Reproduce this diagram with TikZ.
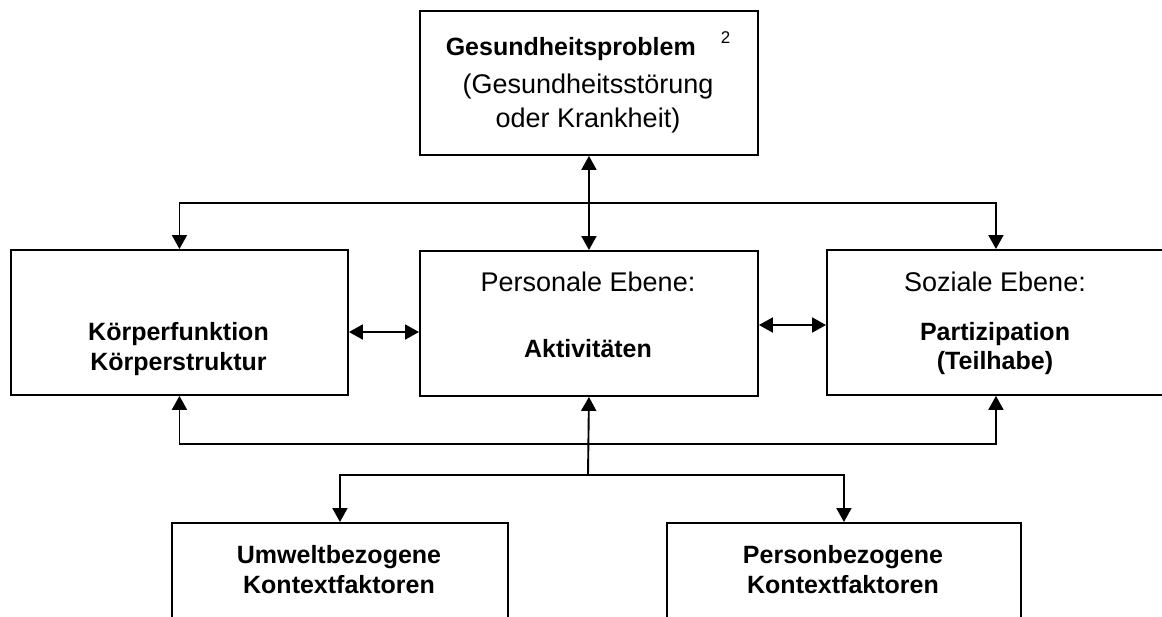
\documentclass[tikz,border=0pt]{standalone}
\usepackage{fontspec}
\setmainfont{Liberation Sans}
\usetikzlibrary{arrows.meta}
\begin{document}
\begin{tikzpicture}[x=1pt,y=-1pt,
  box/.style={draw, line width=1.9pt, inner sep=0pt, anchor=north west},
  reg/.style={font=\fontsize{27}{32}\selectfont, anchor=base, inner sep=0pt},
  bld/.style={font=\fontsize{25}{30}\selectfont\bfseries, anchor=base, inner sep=0pt},
  conn/.style={line width=1.9pt},
  arr/.style={conn, -{Triangle[length=14pt,width=15pt]}},
  darr/.style={conn, {Triangle[length=14pt,width=15pt]}-{Triangle[length=14pt,width=15pt]}}]
\useasboundingbox (0,0) rectangle (1162,616);
\clip (0,0) rectangle (1162,616);
% boxes
\node[box, minimum width=338pt, minimum height=144pt] (T) at (419,10) {};
\node[box, minimum width=337pt, minimum height=145pt] (L) at (10,249) {};
\node[box, minimum width=338pt, minimum height=145pt] (M) at (419,250) {};
\node[box, minimum width=338pt, minimum height=145pt] (R) at (826,249) {};
\node[box, minimum width=336pt, minimum height=140pt] (BL) at (171,522) {};
\node[box, minimum width=354pt, minimum height=140pt] (BR) at (666,522) {};
% texts
\node[bld] (t1) at (588,55) {Gesundheitsproblem\hspace{25pt}\raisebox{12pt}{\fontsize{17}{17}\selectfont\mdseries 2}};
\node[reg] (t2) at (588,93) {(Gesundheitsstörung};
\node[reg] (t3) at (588,127) {oder Krankheit)};
\node[bld] (l1) at (178.5,340) {Körperfunktion};
\node[bld] (l2) at (178.5,370) {Körperstruktur};
\node[reg] (m1) at (588,291) {Personale Ebene:};
\node[bld] (m2) at (588,357) {Aktivitäten};
\node[reg] (r1) at (995,291) {Soziale Ebene:};
\node[bld] (r2) at (995,340) {Partizipation};
\node[bld] (r3) at (995,369) {(Teilhabe)};
\node[bld] (bl1) at (339,563) {Umweltbezogene};
\node[bld] (bl2) at (339,593) {Kontextfaktoren};
\node[bld] (br1) at (843,563) {Personbezogene};
\node[bld] (br2) at (843,593) {Kontextfaktoren};
% connectors
\coordinate (J1) at (588,203);
\draw[arr] (J1) -| (L.north);
\draw[arr] (J1) -| (R.north);
\draw[darr] (T.south) -- (M.north);
\coordinate (a1) at (0,332);
\coordinate (a2) at (0,325);
\draw[darr] (L.east |- a1) -- (M.west |- a1);
\draw[darr] (M.east |- a2) -- (R.west |- a2);
\coordinate (J2) at (588,444);
\draw[arr] (J2) -| (L.south);
\draw[arr] (J2) -| (R.south);
\coordinate (J3) at (588,475);
\draw[arr] (J3) -- (M.south);
\draw[arr] (J3) -| (BL.north);
\draw[arr] (J3) -| (BR.north);
\end{tikzpicture}
\end{document}
